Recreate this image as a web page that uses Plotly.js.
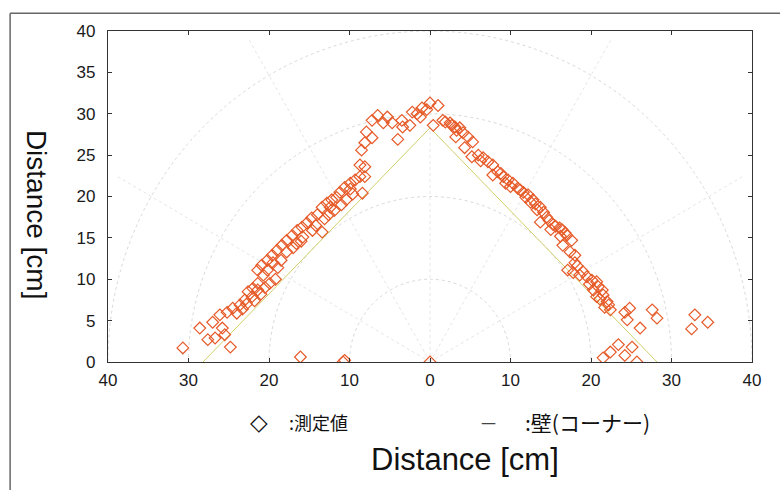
<!DOCTYPE html>
<html>
<head>
<meta charset="utf-8">
<script src="https://cdn.plot.ly/plotly-3.0.1.min.js"></script>
<style>html,body{margin:0;padding:0;background:#fff;}#chart{width:780px;height:490px;}</style>
</head>
<body>
<div id="chart"></div>
<script>
// Measured points (x: signed distance, left side negative; y: distance) [cm]
var measX = [
 -30.7,-28.6,-27.6,-26.7,-25.5,-24.8,-25.8,-27.0,-26.1,-25.2,-24.5,-23.6,-23.0,-22.1,-21.4,-22.6,-22.0,-21.4,-19.9,-20.7,
 -21.4,-20.2,-20.9,-19.5,-20.2,-19.6,-19.0,-17.8,-18.4,-17.8,-17.1,-15.8,-16.5,-15.9,-15.3,-14.7,-14.0,-13.4,-13.4,-12.4,
 -12.8,-12.2,-11.6,-11.2,-8.4,-10.6,-9.9,-9.3,-8.7,-8.1,-8.7,-8.1,-8.5,-8.1,-7.2,-7.9,-4.0,-7.2,-6.5,-5.3,
 -5.8,-4.7,-3.5,-3.4,-2.5,-2.2,-1.6,-1.2,-1.0,-0.4,0.0,
 -24.0,-23.3,-22.8,-21.8,-21.0,-20.5,-19.2,-18.9,-18.5,-17.0,-16.6,-16.0,-14.6,-14.2,-13.1,-12.6,-11.9,-11.0,-10.4,-9.6,-9.9,
 1.0,0.4,
 1.6,1.9,2.5,2.7,3.1,3.7,3.3,4.1,3.2,4.7,5.3,4.3,5.2,6.0,6.6,7.2,7.8,7.8,8.4,9.1,
 9.7,10.3,10.9,11.6,12.2,12.8,13.7,13.3,14.5,13.7,15.3,16.1,16.8,16.4,17.0,17.6,16.5,17.4,18.0,17.1,
 18.0,17.8,18.6,19.5,20.1,20.7,20.9,21.4,20.7,21.5,22.0,21.7,22.4,24.2,24.8,24.5,26.1,27.6,28.2,32.9,
 34.5,32.5,23.4,25.1,22.4,24.2,21.5,25.7,
 6.3,8.8,9.4,10.0,11.2,11.9,12.5,13.1,14.1,14.8,15.6,15.0,16.2,18.3,19.0,19.8,20.3,21.1,22.2,
 -16.1,-10.8,-10.6,0.0
];
var measY = [
 1.7,4.1,2.7,2.9,3.3,1.8,4.1,4.8,5.7,6.0,6.5,6.9,7.5,7.9,8.7,8.5,8.9,9.5,9.5,10.5,
 11.1,11.1,11.7,12.0,12.3,12.9,13.5,13.3,14.1,14.7,15.3,15.1,15.9,16.3,16.8,17.4,17.8,15.7,18.7,18.7,
 19.2,19.6,19.9,20.5,20.4,21.1,21.6,22.0,22.4,22.4,23.8,23.6,25.6,26.5,27.1,27.8,26.9,29.2,29.8,29.6,
 28.9,28.9,29.2,28.4,28.6,30.2,30.0,29.6,30.7,30.5,31.3,
 5.9,6.4,7.0,7.4,8.2,9.0,10.0,11.4,12.3,13.8,14.3,14.6,15.9,16.5,17.3,17.8,18.3,19.0,19.6,20.3,20.9,
 31.0,28.6,
 29.2,29.0,28.9,28.6,28.4,28.3,28.0,27.7,27.2,27.2,26.6,25.9,24.8,25.0,24.7,24.2,23.8,22.6,23.0,22.4,
 22.0,21.6,21.0,20.5,20.2,19.6,18.7,18.4,17.5,16.9,16.6,16.2,15.6,16.0,15.3,14.7,14.1,13.3,12.9,11.1,
 12.0,10.8,10.5,10.3,9.9,9.7,9.1,8.7,7.9,8.1,7.3,6.6,6.3,6.0,6.5,5.1,4.1,6.3,5.3,5.7,
 4.8,4.0,2.1,1.8,1.2,0.8,0.5,0.0,
 24.3,22.8,21.6,21.2,20.8,19.9,19.3,19.1,18.1,17.1,16.4,16.0,15.2,11.6,10.9,9.4,8.7,7.6,6.9,
 0.6,0.0,0.2,0.0
];
// Wall (corner)
var wallX = [-28.2, 0, 28.2];
var wallY = [0, 28.3, 0];
// Ticks
var xTickVals = [-40,-30,-20,-10,0,10,20,30,40];
var xTickText = ['40','30','20','10','0','10','20','30','40'];
var yTickVals = [0,5,10,15,20,25,30,35,40];
var gridRadii = [10,20,30,40];
var gridAngles = [30,60,90,120,150];

var shapes = [];
var gridStyle = {color:'#d9d9d9', width:1, dash:'dot'};
gridRadii.forEach(function(r){
  shapes.push({type:'circle', xref:'x', yref:'y', x0:-r, x1:r, y0:-r, y1:r, line:gridStyle, layer:'below'});
});
gridAngles.forEach(function(a){
  var t = a*Math.PI/180;
  shapes.push({type:'line', xref:'x', yref:'y', x0:0, y0:0, x1:45*Math.cos(t), y1:45*Math.sin(t),
               line:{color:'#e6e6e6', width:1, dash:'dot'}, layer:'below'});
});
// outer scan frame
shapes.push({type:'line', xref:'paper', yref:'paper', x0:-0.152, x1:1.06, y0:1.054, y1:1.054, line:{color:'#666', width:1.5}});
shapes.push({type:'line', xref:'paper', yref:'paper', x0:-0.152, x1:-0.152, y0:1.054, y1:-0.42, line:{color:'#666', width:1.5}});

var traces = [
  {x: wallX, y: wallY, type:'scatter', mode:'lines', line:{color:'#cfcf6a', width:1}, hoverinfo:'none', showlegend:false},
  {x: measX, y: measY, type:'scatter', mode:'markers',
   marker:{symbol:'diamond-open', size:9, color:'#e65a28', line:{width:1.2, color:'#e65a28'}},
   showlegend:false}
];

var tickFont = {family:'Liberation Sans, Arial, sans-serif', size:17, color:'#1a1a1a'};
var cjk = 'Noto Sans CJK JP, sans-serif';
var layout = {
  width:780, height:490,
  margin:{l:108, r:28, t:31, b:128},
  paper_bgcolor:'#fff', plot_bgcolor:'#fff',
  showlegend:false,
  xaxis:{range:[-40,40], tickvals:xTickVals, ticktext:xTickText, ticks:'inside', ticklen:4, tickcolor:'#333',
         showgrid:false, zeroline:false, showline:true, linecolor:'#333', linewidth:1.2, mirror:'ticks',
         tickfont:tickFont, ticklabelstandoff:2, fixedrange:true},
  yaxis:{range:[0,40], tickvals:yTickVals, ticks:'inside', ticklen:4, tickcolor:'#333',
         showgrid:false, zeroline:false, showline:true, linecolor:'#333', linewidth:1.2, mirror:'ticks',
         tickfont:tickFont, ticklabelstandoff:8, fixedrange:true},
  shapes: shapes,
  annotations:[
    {text:'Distance [cm]', xref:'paper', yref:'paper', x:-0.11, y:0.444, textangle:90, showarrow:false,
     xanchor:'center', yanchor:'middle', font:{family:'Liberation Sans, Arial, sans-serif', size:28, color:'#111'}},
    {text:'Distance [cm]', xref:'paper', yref:'paper', x:0.554, y:-0.296, showarrow:false,
     xanchor:'center', yanchor:'middle', font:{family:'Liberation Sans, Arial, sans-serif', size:31, color:'#111'}},
    {text:'◇', xref:'paper', yref:'paper', x:(259-108)/644, y:-0.182, showarrow:false,
     xanchor:'center', yanchor:'middle', font:{family:'DejaVu Sans, sans-serif', size:23, color:'#111'}},
    {text:':測定値', xref:'paper', yref:'paper', x:(287-108)/644, y:-0.182, showarrow:false,
     xanchor:'left', yanchor:'middle', font:{family:cjk, size:18, color:'#111'}},
    {text:'—', xref:'paper', yref:'paper', x:(488-108)/644, y:-0.185, showarrow:false,
     xanchor:'center', yanchor:'middle', font:{family:'DejaVu Sans, sans-serif', size:15, color:'#444'}},
    {text:':壁(コーナー)', xref:'paper', yref:'paper', x:(523-108)/644, y:-0.182, showarrow:false,
     xanchor:'left', yanchor:'middle', font:{family:cjk, size:21, color:'#111'}}
  ]
};
Plotly.newPlot('chart', traces, layout, {displayModeBar:false, staticPlot:true});
</script>
</body>
</html>
